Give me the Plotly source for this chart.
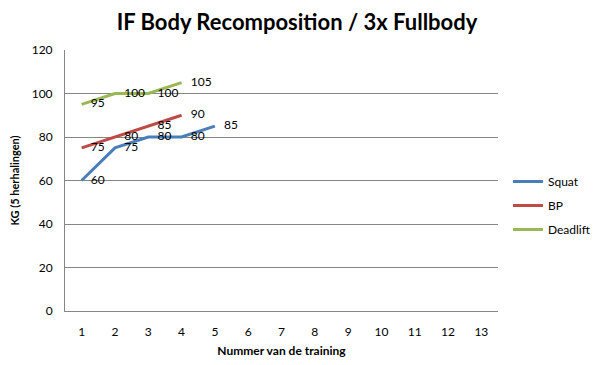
import plotly.graph_objects as go

trainings = [str(i) for i in range(1, 14)]
squat = [60, 75, 80, 80, 85]
bp = [75, 80, 85, 90]
deadlift = [95, 100, 100, 105]

series = [
    ("Squat", squat, "#4A7EBB"),
    ("BP", bp, "#BE4B48"),
    ("Deadlift", deadlift, "#98B954"),
]

FONT = "Lato"

fig = go.Figure()
for name, vals, color in series:
    fig.add_trace(go.Scatter(
        x=trainings[:len(vals)], y=vals, name=name, legendgroup=name,
        mode="lines+text", text=["   " + str(v) for v in vals],
        textposition="middle right",
        textfont=dict(family=FONT, size=12, color="#000000"),
        line=dict(color=color, width=3),
        cliponaxis=False,
    ))

fig.update_layout(
    width=598, height=365,
    margin=dict(l=65, r=100, t=50, b=54, autoexpand=False),
    paper_bgcolor="white", plot_bgcolor="white",
    title=dict(text="<b>IF Body Recomposition / 3x Fullbody</b>",
               x=297 / 598, xref="container", xanchor="center",
               y=1 - 22 / 365, yref="container", yanchor="middle",
               font=dict(family=FONT, size=22, color="#000000")),
    showlegend=True,
    legend=dict(x=1.023, y=(311 - 167) / 261, yref="paper",
                xanchor="left", yanchor="top",
                font=dict(family=FONT, size=12, color="#000000"),
                itemwidth=30, tracegroupgap=5, traceorder="grouped",
                bgcolor="rgba(0,0,0,0)"),
    font=dict(family=FONT, color="#000000"),
)

fig.update_xaxes(
    type="category", categoryorder="array", categoryarray=trainings,
    range=[-0.5, 12.5], showgrid=False, showline=True, linecolor="#868686",
    linewidth=1, ticks="", ticklabelstandoff=10, automargin=False,
    tickfont=dict(family=FONT, size=12, color="#000000"),
    title=dict(text="<b>Nummer van de training</b>", standoff=8,
               font=dict(family=FONT, size=12, color="#000000")),
    zeroline=False,
)
fig.update_yaxes(
    range=[0, 120], dtick=20, showgrid=True, gridcolor="#868686", gridwidth=1,
    showline=True, linecolor="#868686", linewidth=1, ticks="",
    ticklabelstandoff=9, automargin=False,
    tickfont=dict(family=FONT, size=12, color="#000000"),
    title=dict(text="<b>KG (5 herhalingen)</b>", standoff=9,
               font=dict(family=FONT, size=11, color="#000000")),
    zeroline=False,
)

fig.write_html(
    "out.html",
    config={"displayModeBar": False},
    post_script="document.body.style.margin='0';document.body.style.padding='0';",
)
